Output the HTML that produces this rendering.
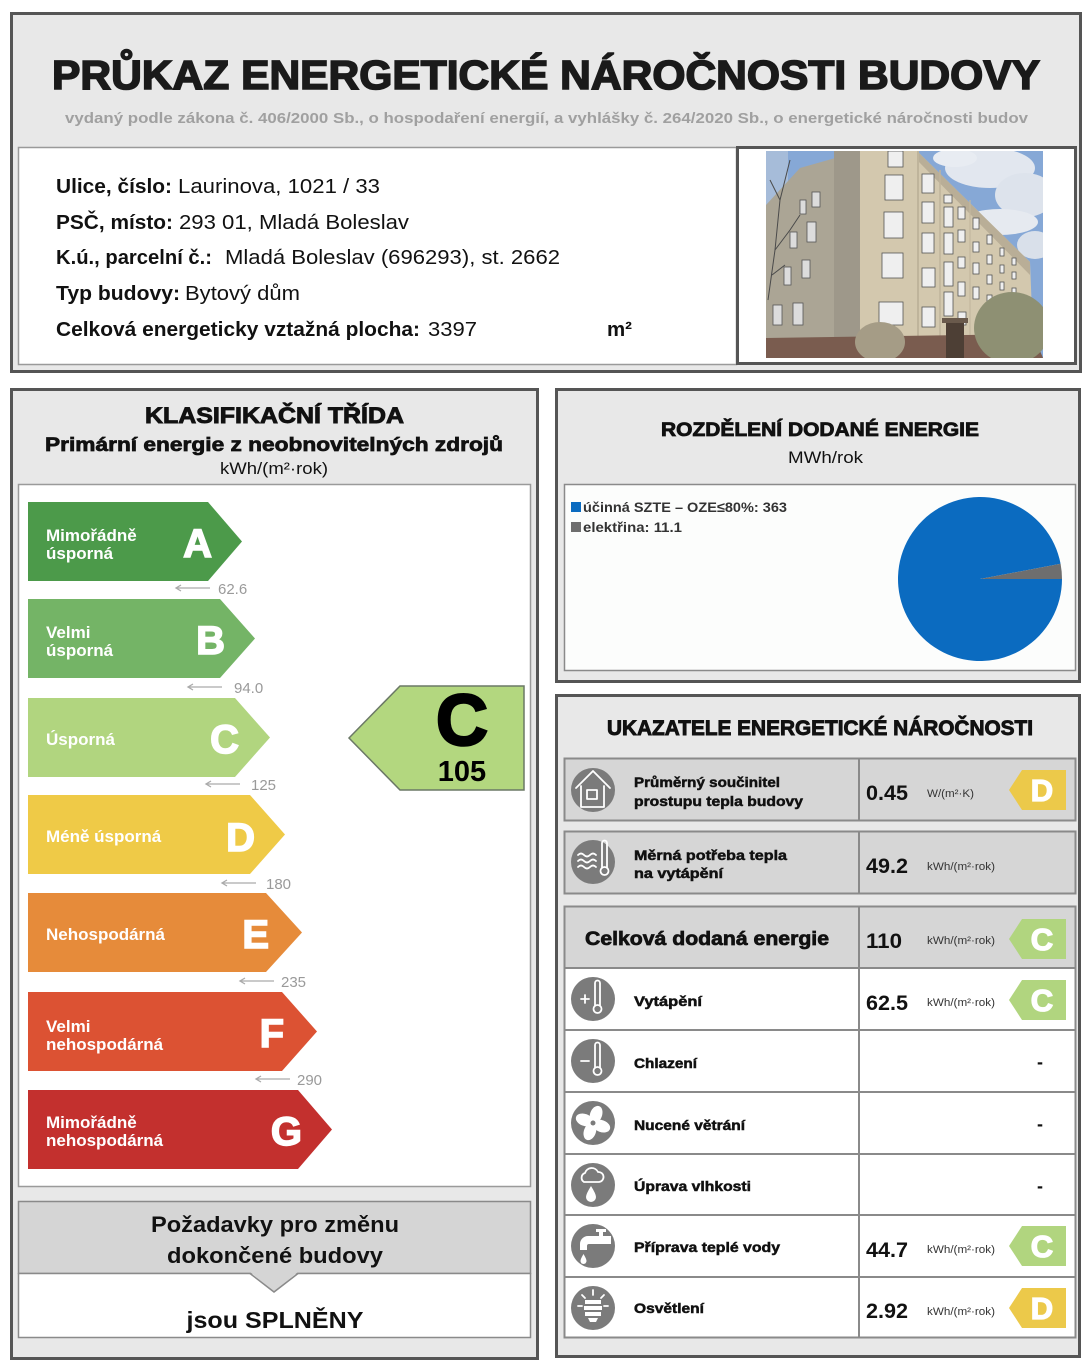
<!DOCTYPE html>
<html><head><meta charset="utf-8"><style>
html,body{margin:0;padding:0;background:#fff;}
svg{display:block}
text{font-family:"Liberation Sans","DejaVu Sans",Arial,sans-serif;}
</style></head><body>
<svg width="1092" height="1366" viewBox="0 0 1092 1366" xmlns="http://www.w3.org/2000/svg">
<rect width="1092" height="1366" fill="#fff"/>

<!-- ===== TOP FRAME ===== -->
<rect x="11.5" y="13.5" width="1069" height="358" fill="#e8e8e8" stroke="#555" stroke-width="3"/>
<text x="52" y="89" font-size="41" font-weight="bold" fill="#1a1a1a" stroke="#1a1a1a" stroke-width="1.6" textLength="988" lengthAdjust="spacingAndGlyphs">PRŮKAZ ENERGETICKÉ NÁROČNOSTI BUDOVY</text>
<text x="65" y="123" font-size="15" font-weight="bold" fill="#a0a0a0" textLength="963" lengthAdjust="spacingAndGlyphs">vydaný podle zákona č. 406/2000 Sb., o hospodaření energií, a vyhlášky č. 264/2020 Sb., o energetické náročnosti budov</text>

<rect x="18.5" y="147.5" width="718" height="217" fill="#fff" stroke="#9a9a9a" stroke-width="1.5"/>
<g font-size="20" fill="#111">
<text x="56" y="193" font-weight="bold" textLength="116" lengthAdjust="spacingAndGlyphs">Ulice, číslo:</text>
<text x="178" y="193" textLength="202" lengthAdjust="spacingAndGlyphs">Laurinova, 1021 / 33</text>
<text x="56" y="229" font-weight="bold" textLength="117" lengthAdjust="spacingAndGlyphs">PSČ, místo:</text>
<text x="179" y="229" textLength="230" lengthAdjust="spacingAndGlyphs">293 01, Mladá Boleslav</text>
<text x="56" y="264" font-weight="bold" textLength="156" lengthAdjust="spacingAndGlyphs">K.ú., parcelní č.:</text>
<text x="225" y="264" textLength="335" lengthAdjust="spacingAndGlyphs">Mladá Boleslav (696293), st. 2662</text>
<text x="56" y="300" font-weight="bold" textLength="124" lengthAdjust="spacingAndGlyphs">Typ budovy:</text>
<text x="185" y="300" textLength="115" lengthAdjust="spacingAndGlyphs">Bytový dům</text>
<text x="56" y="336" font-weight="bold" textLength="364" lengthAdjust="spacingAndGlyphs">Celková energeticky vztažná plocha:</text>
<text x="428" y="336" textLength="49" lengthAdjust="spacingAndGlyphs">3397</text>
<text x="607" y="336" font-weight="bold" textLength="25" lengthAdjust="spacingAndGlyphs">m²</text>
</g>

<!-- photo box -->
<rect x="737.5" y="147.5" width="338" height="216" fill="#fff" stroke="#555" stroke-width="3"/>
<defs><clipPath id="ph"><rect x="766" y="151" width="277" height="207"/></clipPath></defs>
<g clip-path="url(#ph)">
  <rect x="766" y="151" width="277" height="207" fill="#86a8d6"/>
  <ellipse cx="990" cy="168" rx="45" ry="20" fill="#e2e7ef"/>
  <ellipse cx="1025" cy="195" rx="30" ry="22" fill="#dde3ec"/>
  <ellipse cx="1000" cy="222" rx="38" ry="13" fill="#e6eaf0"/>
  <ellipse cx="955" cy="158" rx="22" ry="9" fill="#e8ecf2"/>
  <ellipse cx="1035" cy="245" rx="18" ry="14" fill="#d9e0ea"/>
  <rect x="766" y="151" width="22" height="100" fill="#a6bcd9"/>
  <polygon points="766,205 800,168 860,151 862,151 862,346 766,346" fill="#aba595"/>
  <polygon points="834,151 862,151 862,346 834,346" fill="#9e988a"/>
  <polygon points="860,151 917,151 1030,262 1033,338 860,346" fill="#d3c8ae"/>
  <polygon points="917,151 1030,262 1030,275 917,160" fill="#b9ae97"/>
  <line x1="918" y1="151" x2="918" y2="344" stroke="#bfb49b" stroke-width="2"/>
  <line x1="940" y1="170" x2="940" y2="342" stroke="#bfb49b" stroke-width="1.5"/>
  <line x1="970" y1="200" x2="970" y2="340" stroke="#c3b89f" stroke-width="1.2"/>
  <g fill="#efefef" stroke="#555" stroke-width="0.8">
    <rect x="888" y="151" width="15" height="16"/>
    <rect x="885" y="175" width="18" height="25"/>
    <rect x="884" y="212" width="19" height="26"/>
    <rect x="882" y="253" width="21" height="25"/>
    <rect x="879" y="302" width="24" height="23"/>
    <rect x="922" y="174" width="12" height="19"/>
    <rect x="922" y="202" width="12" height="21"/>
    <rect x="922" y="233" width="12" height="20"/>
    <rect x="922" y="268" width="13" height="19"/>
    <rect x="922" y="307" width="13" height="20"/>
    <rect x="944" y="195" width="8" height="8"/>
    <rect x="944" y="207" width="9" height="20"/>
    <rect x="944" y="233" width="9" height="21"/>
    <rect x="944" y="262" width="9" height="24"/>
    <rect x="944" y="292" width="9" height="24"/>
    <rect x="958" y="207" width="7" height="12"/>
    <rect x="958" y="230" width="7" height="12"/>
    <rect x="958" y="257" width="7" height="11"/>
    <rect x="958" y="282" width="7" height="14"/>
    <rect x="958" y="312" width="8" height="13"/>
    <rect x="973" y="218" width="6" height="11"/>
    <rect x="973" y="242" width="6" height="10"/>
    <rect x="973" y="263" width="6" height="11"/>
    <rect x="973" y="287" width="6" height="12"/>
    <rect x="987" y="235" width="5" height="9"/>
    <rect x="987" y="255" width="5" height="9"/>
    <rect x="987" y="275" width="5" height="9"/>
    <rect x="987" y="295" width="5" height="9"/>
    <rect x="1000" y="248" width="4" height="8"/>
    <rect x="1000" y="265" width="4" height="8"/>
    <rect x="1000" y="282" width="4" height="8"/>
    <rect x="1000" y="300" width="4" height="8"/>
    <rect x="1012" y="258" width="4" height="7"/>
    <rect x="1012" y="272" width="4" height="7"/>
    <rect x="1012" y="288" width="4" height="7"/>
  </g>
  <g fill="#dcdcdc" stroke="#555" stroke-width="0.8">
    <rect x="773" y="305" width="9" height="20"/>
    <rect x="793" y="303" width="10" height="22"/>
    <rect x="784" y="267" width="7" height="18"/>
    <rect x="802" y="260" width="8" height="18"/>
    <rect x="790" y="232" width="7" height="16"/>
    <rect x="807" y="222" width="9" height="20"/>
    <rect x="812" y="192" width="8" height="15"/>
    <rect x="800" y="200" width="6" height="14"/>
  </g>
  <g stroke="#4a4a4a" stroke-width="1" fill="none">
    <path d="M768,300 L775,250 L780,200 L790,160"/>
    <path d="M775,250 L790,230 L800,215"/>
    <path d="M780,200 L770,180"/>
    <path d="M772,275 L785,265"/>
  </g>
  <polygon points="766,338 1033,334 1043,358 766,358" fill="#7a5c4f"/>
  <ellipse cx="1012" cy="328" rx="38" ry="36" fill="#8e9073"/>
  <ellipse cx="880" cy="342" rx="25" ry="20" fill="#a59c86"/>
  <rect x="942" y="318" width="26" height="5" fill="#6a5a4c"/>
  <rect x="946" y="323" width="18" height="35" fill="#4d3f35"/>
</g>

<!-- ===== LEFT PANEL ===== -->
<rect x="11.5" y="389.5" width="526" height="969" fill="#e8e8e8" stroke="#555" stroke-width="3"/>
<text x="145" y="423" font-size="22" font-weight="bold" fill="#111" stroke="#111" stroke-width="0.9" textLength="259" lengthAdjust="spacingAndGlyphs">KLASIFIKAČNÍ TŘÍDA</text>
<text x="45" y="451" font-size="19" font-weight="bold" fill="#111" stroke="#111" stroke-width="0.7" textLength="458" lengthAdjust="spacingAndGlyphs">Primární energie z neobnovitelných zdrojů</text>
<text x="220" y="474" font-size="17" fill="#111" textLength="108" lengthAdjust="spacingAndGlyphs">kWh/(m²·rok)</text>
<rect x="18.5" y="484.5" width="512" height="702" fill="#fff" stroke="#9a9a9a" stroke-width="1.5"/>

<!-- bars -->
<g font-weight="bold" fill="#fff">
  <polygon points="28,502 208,502 242,541.5 208,581 28,581" fill="#4c9a4a"/>
  <text x="46" y="541" font-size="17">Mimořádně</text>
  <text x="46" y="559" font-size="17">úsporná</text>
  <text x="212" y="557" font-size="40" text-anchor="end" stroke="#fff" stroke-width="1.5">A</text>

  <polygon points="28,599 220,599 255,638.5 220,678 28,678" fill="#74b466"/>
  <text x="46" y="638" font-size="17">Velmi</text>
  <text x="46" y="656" font-size="17">úsporná</text>
  <text x="225" y="654" font-size="40" text-anchor="end" stroke="#fff" stroke-width="1.5">B</text>

  <polygon points="28,698 235,698 270,737.5 235,777 28,777" fill="#b1d57f"/>
  <text x="46" y="745" font-size="17">Úsporná</text>
  <text x="239" y="753" font-size="40" text-anchor="end" stroke="#fff" stroke-width="1.5">C</text>

  <polygon points="28,795 250,795 285,834.5 250,874 28,874" fill="#efca47"/>
  <text x="46" y="842" font-size="17">Méně úsporná</text>
  <text x="255" y="851" font-size="40" text-anchor="end" stroke="#fff" stroke-width="1.5">D</text>

  <polygon points="28,893 266,893 302,932.5 266,972 28,972" fill="#e68b3a"/>
  <text x="46" y="940" font-size="17">Nehospodárná</text>
  <text x="269" y="948" font-size="40" text-anchor="end" stroke="#fff" stroke-width="1.5">E</text>

  <polygon points="28,992 282,992 317,1031.5 282,1071 28,1071" fill="#dc5233"/>
  <text x="46" y="1032" font-size="17">Velmi</text>
  <text x="46" y="1050" font-size="17">nehospodárná</text>
  <text x="284" y="1047" font-size="40" text-anchor="end" stroke="#fff" stroke-width="1.5">F</text>

  <polygon points="28,1090 298,1090 332,1129.5 298,1169 28,1169" fill="#c3302e"/>
  <text x="46" y="1128" font-size="17">Mimořádně</text>
  <text x="46" y="1146" font-size="17">nehospodárná</text>
  <text x="302" y="1145" font-size="40" text-anchor="end" stroke="#fff" stroke-width="1.5">G</text>
</g>

<!-- thresholds -->
<g stroke="#aaa" stroke-width="1.3" fill="none">
  <path d="M176,588 H210 M181,585 L176,588 L181,591"/>
  <path d="M188,687 H222 M193,684 L188,687 L193,690"/>
  <path d="M206,784 H240 M211,781 L206,784 L211,787"/>
  <path d="M222,883 H256 M227,880 L222,883 L227,886"/>
  <path d="M240,981 H274 M245,978 L240,981 L245,984"/>
  <path d="M256,1079 H290 M261,1076 L256,1079 L261,1082"/>
</g>
<g font-size="15" fill="#9a9a9a">
  <text x="218" y="594">62.6</text>
  <text x="234" y="693">94.0</text>
  <text x="251" y="790">125</text>
  <text x="266" y="889">180</text>
  <text x="281" y="987">235</text>
  <text x="297" y="1085">290</text>
</g>

<!-- current class indicator -->
<polygon points="349,738 400,686 524,686 524,790 400,790" fill="#b3d77f" stroke="#6b7866" stroke-width="1.5"/>
<text x="462" y="745" font-size="72" font-weight="bold" fill="#000" stroke="#000" stroke-width="2.5" text-anchor="middle">C</text>
<text x="462" y="781" font-size="29" font-weight="bold" fill="#000" text-anchor="middle">105</text>

<!-- requirements -->
<rect x="18.5" y="1201.5" width="512" height="72" fill="#d5d5d5" stroke="#8a8a8a" stroke-width="1.5"/>
<rect x="18.5" y="1273.5" width="512" height="64" fill="#fff" stroke="#8a8a8a" stroke-width="1.5"/>
<polygon points="250,1272 298,1272 274,1292" fill="#d5d5d5"/>
<path d="M250,1273.5 L274,1292 L298,1273.5" fill="none" stroke="#8a8a8a" stroke-width="1.5"/>
<text x="275" y="1232" font-size="22" font-weight="bold" fill="#111" text-anchor="middle" textLength="248" lengthAdjust="spacingAndGlyphs">Požadavky pro změnu</text>
<text x="275" y="1263" font-size="22" font-weight="bold" fill="#111" text-anchor="middle" textLength="216" lengthAdjust="spacingAndGlyphs">dokončené budovy</text>
<text x="275" y="1328" font-size="23" font-weight="bold" fill="#111" text-anchor="middle" textLength="177" lengthAdjust="spacingAndGlyphs">jsou SPLNĚNY</text>

<!-- ===== PIE PANEL ===== -->
<rect x="556.5" y="389.5" width="523" height="292" fill="#e8e8e8" stroke="#555" stroke-width="3"/>
<text x="661" y="436" font-size="19" font-weight="bold" fill="#111" stroke="#111" stroke-width="0.8" textLength="318" lengthAdjust="spacingAndGlyphs">ROZDĚLENÍ DODANÉ ENERGIE</text>
<text x="788" y="463" font-size="17" fill="#111" textLength="75" lengthAdjust="spacingAndGlyphs">MWh/rok</text>
<rect x="564.5" y="484.5" width="511" height="186" fill="#fcfdfc" stroke="#8a8a8a" stroke-width="1.5"/>
<rect x="571" y="502" width="10" height="10" fill="#0b6bc0"/>
<text x="583" y="512" font-size="14" font-weight="bold" fill="#333" textLength="204" lengthAdjust="spacingAndGlyphs">účinná SZTE – OZE≤80%: 363</text>
<rect x="571" y="522" width="10" height="10" fill="#6e6e6e"/>
<text x="583" y="532" font-size="14" font-weight="bold" fill="#333" textLength="99" lengthAdjust="spacingAndGlyphs">elektřina: 11.1</text>
<path d="M980,579 L1060.57,563.78 A82,82 0 1,0 1062,579 Z" fill="#0b6bc0"/>
<path d="M980,579 L1062,579 A82,82 0 0,0 1060.57,563.78 Z" fill="#6e6e6e"/>

<!-- ===== INDICATORS PANEL ===== -->
<rect x="556.5" y="695.5" width="523" height="661" fill="#e8e8e8" stroke="#555" stroke-width="3"/>
<text x="607" y="735" font-size="21" font-weight="bold" fill="#111" stroke="#111" stroke-width="0.9" textLength="426" lengthAdjust="spacingAndGlyphs">UKAZATELE ENERGETICKÉ NÁROČNOSTI</text>

<!-- row boxes -->
<rect x="564.5" y="758.5" width="511" height="62" fill="#d6d6d6" stroke="#8a8a8a" stroke-width="2"/>
<line x1="859" y1="758" x2="859" y2="821" stroke="#8a8a8a" stroke-width="2"/>
<rect x="564.5" y="831.5" width="511" height="62" fill="#d6d6d6" stroke="#8a8a8a" stroke-width="2"/>
<line x1="859" y1="831" x2="859" y2="894" stroke="#8a8a8a" stroke-width="2"/>

<rect x="564.5" y="906.5" width="511" height="431" fill="#fff" stroke="#8a8a8a" stroke-width="2"/>
<rect x="565.5" y="907.5" width="509" height="61" fill="#d6d6d6"/>
<g stroke="#8a8a8a" stroke-width="2">
  <line x1="564" y1="968" x2="1076" y2="968"/>
  <line x1="564" y1="1030" x2="1076" y2="1030"/>
  <line x1="564" y1="1092" x2="1076" y2="1092"/>
  <line x1="564" y1="1154" x2="1076" y2="1154"/>
  <line x1="564" y1="1215" x2="1076" y2="1215"/>
  <line x1="564" y1="1277" x2="1076" y2="1277"/>
  <line x1="859" y1="906" x2="859" y2="1338"/>
</g>

<!-- icons -->
<g fill="#7b7b7b">
  <circle cx="593" cy="790" r="22"/>
  <circle cx="593" cy="862" r="22"/>
  <circle cx="593" cy="999" r="22"/>
  <circle cx="593" cy="1061" r="22"/>
  <circle cx="593" cy="1123" r="22"/>
  <circle cx="593" cy="1185" r="22"/>
  <circle cx="593" cy="1246" r="22"/>
  <circle cx="593" cy="1308" r="22"/>
</g>
<g stroke="#fff" stroke-width="1.8" fill="none" stroke-linejoin="round" stroke-linecap="round">
  <path d="M576,788 L593,771 L610,788 M581,786 V807 H604 V786"/>
  <rect x="587" y="790" width="10" height="9"/>
  <path d="M578,855 q3,-3 6,0 t6,0 t6,0"/>
  <path d="M578,861 q3,-3 6,0 t6,0 t6,0"/>
  <path d="M578,867 q3,-3 6,0 t6,0 t6,0"/>
  <path d="M602,867 V843 a2.5,2.5 0 0 1 5,0 V867"/>
  <circle cx="604.5" cy="871" r="4"/>
  <path d="M581,999 h8 M585,995 v8"/>
  <path d="M595,1005 V983 a2.5,2.5 0 0 1 5,0 V1005"/>
  <circle cx="597.5" cy="1009" r="4"/>
  <path d="M581,1061 h8"/>
  <path d="M595,1067 V1045 a2.5,2.5 0 0 1 5,0 V1067"/>
  <circle cx="597.5" cy="1071" r="4"/>
  <path d="M584,1182 a5,5 0 0 1 1,-9 a7,7 0 0 1 13,-1 a5,5 0 0 1 1,10 Z"/>
  <path d="M593,1290 v5 M582,1295 l3,3 M604,1295 l-3,3 M578,1306 h4 M604,1306 h4"/>
</g>
<g fill="#fff">
  <g transform="translate(593,1123)">
    <ellipse cx="0" cy="-9" rx="6" ry="9" transform="rotate(20)"/>
    <ellipse cx="0" cy="-9" rx="6" ry="9" transform="rotate(110)"/>
    <ellipse cx="0" cy="-9" rx="6" ry="9" transform="rotate(200)"/>
    <ellipse cx="0" cy="-9" rx="6" ry="9" transform="rotate(290)"/>
    <circle cx="0" cy="0" r="2.5" fill="#7b7b7b"/>
  </g>
  <path d="M591,1186 q-5,8 -5,11 a5,5 0 0 0 10,0 q0,-3 -5,-11 Z"/>
  <rect x="596" y="1229" width="10" height="3"/>
  <rect x="599" y="1231" width="4" height="5"/>
  <path d="M580,1250 V1244 a8,8 0 0 1 8,-8 H611 V1244 H589 a2,2 0 0 0 -2,2 V1250 Z"/>
  <path d="M583.5,1254 q-3,5 -3,7 a3,3 0 0 0 6,0 q0,-2 -3,-7 Z"/>
  <path d="M585,1300 h16 v4 h-16 Z M584,1306 h18 v4 h-18 Z M585,1312 h16 v4 h-16 Z M588,1318 h10 l-2,4 h-6 Z"/>
</g>

<!-- row labels -->
<g font-size="14" font-weight="bold" fill="#111" stroke="#111" stroke-width="0.5">
  <text x="634" y="787" textLength="146" lengthAdjust="spacingAndGlyphs">Průměrný součinitel</text>
  <text x="634" y="806" textLength="169" lengthAdjust="spacingAndGlyphs">prostupu tepla budovy</text>
  <text x="634" y="860" textLength="153" lengthAdjust="spacingAndGlyphs">Měrná potřeba tepla</text>
  <text x="634" y="878" textLength="89" lengthAdjust="spacingAndGlyphs">na vytápění</text>
  <text x="634" y="1006" textLength="68" lengthAdjust="spacingAndGlyphs">Vytápění</text>
  <text x="634" y="1068" textLength="63" lengthAdjust="spacingAndGlyphs">Chlazení</text>
  <text x="634" y="1130" textLength="111" lengthAdjust="spacingAndGlyphs">Nucené větrání</text>
  <text x="634" y="1191" textLength="117" lengthAdjust="spacingAndGlyphs">Úprava vlhkosti</text>
  <text x="634" y="1252" textLength="146" lengthAdjust="spacingAndGlyphs">Příprava teplé vody</text>
  <text x="634" y="1313" textLength="70" lengthAdjust="spacingAndGlyphs">Osvětlení</text>
</g>
<text x="585" y="945" font-size="19" font-weight="bold" fill="#111" stroke="#111" stroke-width="0.7" textLength="244" lengthAdjust="spacingAndGlyphs">Celková dodaná energie</text>

<!-- values -->
<g font-size="21" font-weight="bold" fill="#111">
  <text x="866" y="800" textLength="42" lengthAdjust="spacingAndGlyphs">0.45</text>
  <text x="866" y="873" textLength="42" lengthAdjust="spacingAndGlyphs">49.2</text>
  <text x="866" y="948" textLength="36" lengthAdjust="spacingAndGlyphs">110</text>
  <text x="866" y="1010" textLength="42" lengthAdjust="spacingAndGlyphs">62.5</text>
  <text x="866" y="1257" textLength="42" lengthAdjust="spacingAndGlyphs">44.7</text>
  <text x="866" y="1318" textLength="42" lengthAdjust="spacingAndGlyphs">2.92</text>
</g>
<g font-size="11" fill="#333">
  <text x="927" y="797" textLength="47" lengthAdjust="spacingAndGlyphs">W/(m²·K)</text>
  <text x="927" y="870" textLength="68" lengthAdjust="spacingAndGlyphs">kWh/(m²·rok)</text>
  <text x="927" y="944" textLength="68" lengthAdjust="spacingAndGlyphs">kWh/(m²·rok)</text>
  <text x="927" y="1006" textLength="68" lengthAdjust="spacingAndGlyphs">kWh/(m²·rok)</text>
  <text x="927" y="1253" textLength="68" lengthAdjust="spacingAndGlyphs">kWh/(m²·rok)</text>
  <text x="927" y="1315" textLength="68" lengthAdjust="spacingAndGlyphs">kWh/(m²·rok)</text>
</g>
<g font-size="18" font-weight="bold" fill="#111" text-anchor="middle">
  <text x="1040" y="1068">-</text>
  <text x="1040" y="1130">-</text>
  <text x="1040" y="1192">-</text>
</g>

<!-- badges -->
<polygon points="1009,790 1022,770 1066,770 1066,810 1022,810" fill="#ecc94a"/>
<polygon points="1009,939 1022,919 1066,919 1066,959 1022,959" fill="#b1d57f"/>
<polygon points="1009,1000 1022,980 1066,980 1066,1020 1022,1020" fill="#b1d57f"/>
<polygon points="1009,1246 1022,1226 1066,1226 1066,1266 1022,1266" fill="#b1d57f"/>
<polygon points="1009,1308 1022,1288 1066,1288 1066,1328 1022,1328" fill="#ecc94a"/>
<g font-size="31" font-weight="bold" fill="#fff" stroke="#fff" stroke-width="1.3" text-anchor="middle">
  <text x="1042" y="801">D</text>
  <text x="1042" y="950">C</text>
  <text x="1042" y="1011">C</text>
  <text x="1042" y="1257">C</text>
  <text x="1042" y="1319">D</text>
</g>
</svg>
</body></html>
